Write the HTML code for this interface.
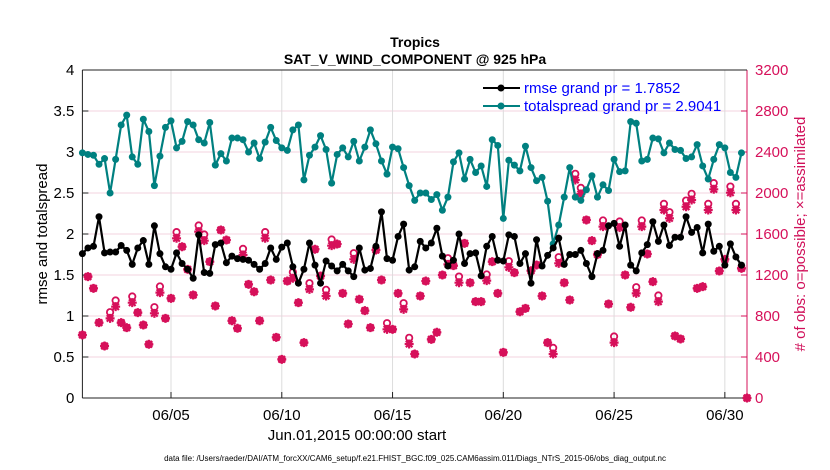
<!DOCTYPE html>
<html><head><meta charset="utf-8"><style>
body{margin:0;background:#fff;}
svg{display:block;font-family:"Liberation Sans",Arial,sans-serif;}
</style></head><body>
<svg id="chart" width="830" height="470" viewBox="0 0 830 470">
<text x="415" y="47" text-anchor="middle" font-size="14" font-weight="bold">Tropics</text>
<text x="415" y="64" text-anchor="middle" font-size="14" font-weight="bold">SAT_V_WIND_COMPONENT @ 925 hPa</text>
<g id="grid"></g>
<g id="axes"></g>
<g id="series"></g>
<text transform="translate(47,234) rotate(-90)" text-anchor="middle" font-size="15">rmse and totalspread</text>
<text transform="translate(805,234) rotate(-90)" text-anchor="middle" font-size="15" fill="#d0105a"># of obs: o=possible; ×=assimilated</text>
<text x="357" y="440" text-anchor="middle" font-size="15">Jun.01,2015 00:00:00 start</text>
<text x="415" y="461" text-anchor="middle" font-size="8">data file: /Users/raeder/DAI/ATM_forcXX/CAM6_setup/f.e21.FHIST_BGC.f09_025.CAM6assim.011/Diags_NTrS_2015-06/obs_diag_output.nc</text>
<g>
<line x1="483" y1="88" x2="520" y2="88" stroke="#000" stroke-width="2"/><circle cx="501" cy="88" r="3.5" fill="#000"/>
<text x="524" y="93" font-size="15" fill="#0000ff">rmse grand pr = 1.7852</text>
<line x1="483" y1="106" x2="520" y2="106" stroke="#008080" stroke-width="2"/><circle cx="501" cy="106" r="3.5" fill="#008080"/>
<text x="524" y="111" font-size="15" fill="#0000ff">totalspread grand pr = 2.9041</text>
</g>
</svg>
<script>
const rmse=[1.76,1.83,1.85,2.21,1.77,1.78,1.78,1.86,1.80,1.63,1.83,1.92,1.63,2.10,1.76,1.60,1.57,1.77,1.64,1.57,1.46,1.99,1.53,1.52,1.87,1.89,1.65,1.73,1.70,1.69,1.68,
1.63,1.57,1.64,1.83,1.69,1.84,1.89,1.60,1.40,1.57,1.89,1.62,1.40,1.67,1.61,1.55,1.63,1.55,1.48,1.83,1.56,1.58,1.85,2.27,1.70,1.68,1.97,2.12,1.56,1.60,
1.91,1.83,1.89,2.07,1.73,1.61,1.68,2.00,1.64,1.76,1.77,1.49,1.85,1.97,1.68,1.67,1.99,1.97,1.64,1.76,1.40,1.93,1.61,1.74,1.83,1.95,1.63,1.75,1.75,1.80,
1.64,1.48,1.76,1.80,2.10,2.13,1.85,2.11,1.62,1.55,1.77,1.87,2.15,1.91,2.11,1.86,1.96,1.96,2.21,2.02,2.08,1.77,2.12,1.79,1.85,1.62,1.88,1.72,1.62];
const spread=[2.99,2.97,2.96,2.85,2.92,2.50,2.91,3.33,3.45,2.94,2.85,3.40,3.25,2.59,2.95,3.30,3.38,3.05,3.13,3.37,3.33,3.15,3.11,3.36,2.84,2.98,2.89,3.17,3.17,3.15,3.00,
3.11,2.92,3.12,3.30,3.14,3.05,3.02,3.27,3.33,2.66,2.96,3.06,3.20,3.03,2.62,2.97,3.05,2.94,3.13,2.89,3.06,3.27,3.10,2.89,2.73,3.06,3.04,2.81,2.59,2.41,
2.50,2.50,2.42,2.48,2.29,2.45,2.88,2.99,2.67,2.91,2.75,2.83,2.58,3.15,3.08,2.19,2.90,2.84,2.77,3.07,2.81,2.65,2.69,2.40,1.88,2.11,2.45,2.81,2.45,2.41,
2.54,2.71,2.45,2.60,2.53,2.91,2.76,2.77,3.37,3.35,2.89,2.91,3.17,3.16,2.99,3.11,3.03,3.02,2.92,2.94,3.09,2.83,2.67,2.91,3.09,3.05,2.75,2.69,2.99];
const nAssim=[615,1184,1070,735,507,777,891,735,686,930,833,712,524,826,1028,777,972,1558,1476,1255,1005,1623,1535,1330,898,1639,1541,754,680,1395,1109,
1037,754,1558,1151,592,377,1141,1168,930,540,1060,1451,1190,995,1486,1502,1021,722,1353,963,852,686,1444,1151,670,670,1021,865,527,429,
995,1141,572,641,1200,1304,1291,1125,1509,1125,940,940,1145,1330,1021,445,1275,1223,842,875,1242,1298,995,540,429,1314,1125,956,2127,
1990,1737,1535,1400,1672,917,540,1662,1200,885,1021,1672,1405,1135,940,1834,1753,605,576,1866,1932,1070,1086,1834,2036,1239,1353,2003,1834,1265,0];
const nPoss=[615,1184,1070,735,507,837,951,735,686,990,833,712,524,886,1088,777,972,1618,1476,1255,1005,1683,1595,1330,898,1639,1541,754,680,1455,1109,
1037,754,1618,1151,592,377,1141,1228,930,540,1120,1451,1190,1055,1546,1502,1021,722,1413,963,852,686,1444,1151,730,670,1021,925,587,429,
995,1141,572,641,1200,1364,1291,1185,1509,1125,940,940,1205,1330,1021,445,1335,1223,842,875,1242,1298,995,540,489,1374,1125,956,2187,
2050,1737,1535,1400,1732,917,600,1722,1200,885,1081,1732,1405,1135,1000,1894,1813,605,576,1926,1992,1070,1086,1894,2096,1239,1353,2063,1894,1265,0];
const yTicks=[0,0.5,1,1.5,2,2.5,3,3.5,4];
const y2Ticks=[0,400,800,1200,1600,2000,2400,2800,3200];
const xTickDays=[4,9,14,19,24,29];
const xTickLabels=["06/05","06/10","06/15","06/20","06/25","06/30"];

const NS="http://www.w3.org/2000/svg";
const L=82.4,R=747,T=70,B=398,DAYS=30;
const xs=d=>L+(R-L)*d/DAYS;
const ys=v=>B-(B-T)*v/4;
const ys2=v=>B-(B-T)*v/3200;
const PINK="#d6105a";
function mk(tag,attrs,parent){const e=document.createElementNS(NS,tag);for(const k in attrs)e.setAttribute(k,attrs[k]);parent.appendChild(e);return e;}
const grid=document.getElementById('grid'),axes=document.getElementById('axes'),ser=document.getElementById('series');
yTicks.forEach((t,i)=>{
  const y=ys(t);
  if(i>0&&i<yTicks.length-1){const g=mk('line',{x1:L,x2:R,y1:y,y2:y,stroke:'#f3d3df','stroke-width':1},grid);
  
  }
  mk('line',{x1:L,x2:L+6,y1:y,y2:y,stroke:'#222'},axes);
  const tx=mk('text',{x:L-8,y:y+5,'text-anchor':'end','font-size':15},axes);tx.textContent=t;
  
  
});
y2Ticks.forEach(t=>{
  const y=ys2(t);
  mk('line',{x1:R-6,x2:R,y1:y,y2:y,stroke:PINK},axes);
  const tx=mk('text',{x:R+8,y:y+5,'font-size':15,fill:PINK},axes);tx.textContent=t;
  
  
});
xTickDays.forEach((d,i)=>{
  const x=xs(d);
  const g=mk('line',{x1:x,x2:x,y1:T,y2:B,stroke:'#dcdcdc'},grid);
  
  
  mk('line',{x1:x,x2:x,y1:B-6,y2:B,stroke:'#222'},axes);
  const tx=mk('text',{x:x,y:B+22,'text-anchor':'middle','font-size':15},axes);tx.textContent=xTickLabels[i];
  
  
});
mk('line',{x1:L,x2:L,y1:T,y2:B,stroke:'#222'},axes);
mk('line',{x1:L,x2:R,y1:B,y2:B,stroke:'#222'},axes);
mk('line',{x1:R,x2:R,y1:T,y2:B,stroke:PINK},axes);
mk('line',{x1:L,x2:R,y1:T,y2:T,stroke:'#222'},axes);

// obs markers
nAssim.forEach((v,i)=>{
  const x=xs(i*0.25), y=ys2(v), yp=ys2(nPoss[i]);
  const c=mk('circle',{cx:x,cy:yp,r:3.2,fill:'none',stroke:PINK,'stroke-width':1.8},ser);
  
  
  const s=mk('path',{d:`M${x-4.5},${y}H${x+4.5}M${x},${y-4.5}V${y+4.5}M${x-3.3},${y-3.3}L${x+3.3},${y+3.3}M${x-3.3},${y+3.3}L${x+3.3},${y-3.3}`,stroke:PINK,'stroke-width':2.2},ser);
  
  
});
function line(arr,color,name){
  const pts=arr.map((v,i)=>xs(i*0.25).toFixed(1)+','+ys(v).toFixed(1)).join(' ');
  const p=mk('polyline',{points:pts,fill:'none',stroke:color,'stroke-width':2.2,'stroke-linejoin':'round'},ser);
  
  
  arr.forEach((v,i)=>{
    const c=mk('circle',{cx:xs(i*0.25),cy:ys(v),r:3.5,fill:color},ser);
    
    
  });
}
line(spread,'#008080','totalspread');
line(rmse,'#000000','rmse');
</script>
</body></html>
